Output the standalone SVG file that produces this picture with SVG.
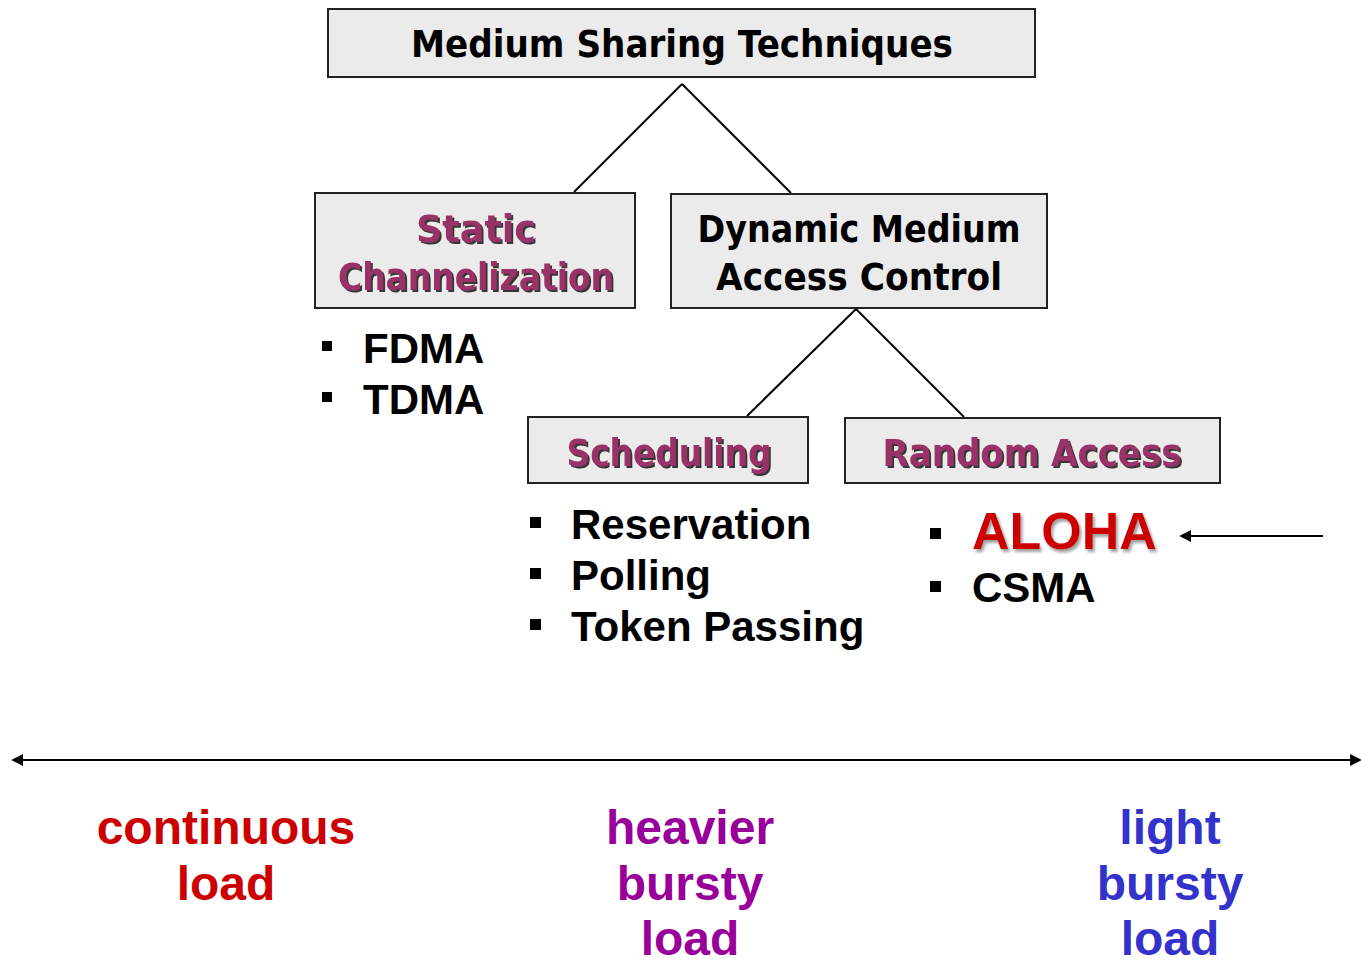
<svg xmlns="http://www.w3.org/2000/svg" width="1361" height="966" viewBox="0 0 1361 966">
<defs>
<style>
.box{fill:#ebebeb;stroke:#222;stroke-width:2}
.ct{font-family:"DejaVu Sans",sans-serif;font-weight:bold;font-size:37px;text-anchor:middle}
.blk{fill:#000}
.mag{fill:#993366;filter:url(#sh)}
.bt{font-family:"Liberation Sans",Arial,sans-serif;font-weight:bold;font-size:42px;fill:#000}
.lbl{font-family:"Liberation Sans",Arial,sans-serif;font-weight:bold;font-size:48px;text-anchor:middle}
.ln{stroke:#000;stroke-width:2;fill:none}
</style>
<filter id="sh" x="-5%" y="-20%" width="115%" height="150%">
<feDropShadow dx="2" dy="2" stdDeviation="0.6" flood-color="#222" flood-opacity="0.9"/>
</filter>
<filter id="sh2" x="-5%" y="-20%" width="115%" height="150%">
<feDropShadow dx="2" dy="3" stdDeviation="1.5" flood-color="#777" flood-opacity="0.7"/>
</filter>
<marker id="ah" viewBox="0 0 10 10" refX="1" refY="5" markerWidth="6" markerHeight="6" orient="auto-start-reverse" markerUnits="strokeWidth">
<path d="M0,0 L10,5 L0,10 z" fill="#000"/>
</marker>
</defs>

<g id="connectors">
<line class="ln" x1="682" y1="84" x2="574" y2="192"/>
<line class="ln" x1="682" y1="84" x2="791" y2="193"/>
<line class="ln" x1="856" y1="309" x2="747" y2="416"/>
<line class="ln" x1="856" y1="309" x2="964" y2="417"/>
<line class="ln" x1="1323" y1="536" x2="1190" y2="536" marker-end="url(#ah)"/>
<line class="ln" x1="22" y1="760" x2="1351" y2="760" marker-start="url(#ah)" marker-end="url(#ah)"/>
</g>

<g id="root">
<rect class="box" x="328" y="9" width="707" height="68"/>
<text class="ct blk" x="682" y="57" textLength="542" lengthAdjust="spacingAndGlyphs">Medium Sharing Techniques</text>
</g>

<g id="static">
<rect class="box" x="315" y="193" width="320" height="115"/>
<text class="ct mag" x="476" y="242" textLength="120" lengthAdjust="spacingAndGlyphs">Static</text>
<text class="ct mag" x="476" y="290" textLength="276" lengthAdjust="spacingAndGlyphs">Channelization</text>
</g>

<g id="dynamic">
<rect class="box" x="671" y="194" width="376" height="114"/>
<text class="ct blk" x="859" y="242" textLength="323" lengthAdjust="spacingAndGlyphs">Dynamic Medium</text>
<text class="ct blk" x="859" y="290" textLength="286" lengthAdjust="spacingAndGlyphs">Access Control</text>
</g>

<g id="scheduling">
<rect class="box" x="528" y="417" width="280" height="66"/>
<text class="ct mag" x="669" y="466" textLength="205" lengthAdjust="spacingAndGlyphs">Scheduling</text>
</g>

<g id="random">
<rect class="box" x="845" y="418" width="375" height="65"/>
<text class="ct mag" x="1032" y="466" textLength="299" lengthAdjust="spacingAndGlyphs">Random Access</text>
</g>

<g id="static-list">
<rect x="322" y="341" width="10" height="10" fill="#000"/>
<text class="bt" x="363" y="363">FDMA</text>
<rect x="322" y="392" width="10" height="10" fill="#000"/>
<text class="bt" x="363" y="414">TDMA</text>
</g>

<g id="scheduling-list">
<rect x="530" y="517" width="11" height="11" fill="#000"/>
<text class="bt" x="571" y="539">Reservation</text>
<rect x="530" y="568" width="11" height="11" fill="#000"/>
<text class="bt" x="571" y="590">Polling</text>
<rect x="530" y="619" width="11" height="11" fill="#000"/>
<text class="bt" x="571" y="641">Token Passing</text>
</g>

<g id="random-list">
<rect x="930" y="528" width="11" height="11" fill="#000"/>
<text class="bt" x="972" y="549" style="font-size:52px;fill:#cc0000" filter="url(#sh2)">ALOHA</text>
<rect x="930" y="581" width="11" height="11" fill="#000"/>
<text class="bt" x="972" y="602">CSMA</text>
</g>

<g id="load-labels">
<text class="lbl" fill="#cc0000"><tspan x="226" y="844">continuous</tspan><tspan x="226" y="900">load</tspan></text>
<text class="lbl" fill="#990099"><tspan x="690" y="844">heavier</tspan><tspan x="690" y="900">bursty</tspan><tspan x="690" y="955">load</tspan></text>
<text class="lbl" fill="#3333cc"><tspan x="1170" y="844">light</tspan><tspan x="1170" y="900">bursty</tspan><tspan x="1170" y="955">load</tspan></text>
</g>
</svg>
